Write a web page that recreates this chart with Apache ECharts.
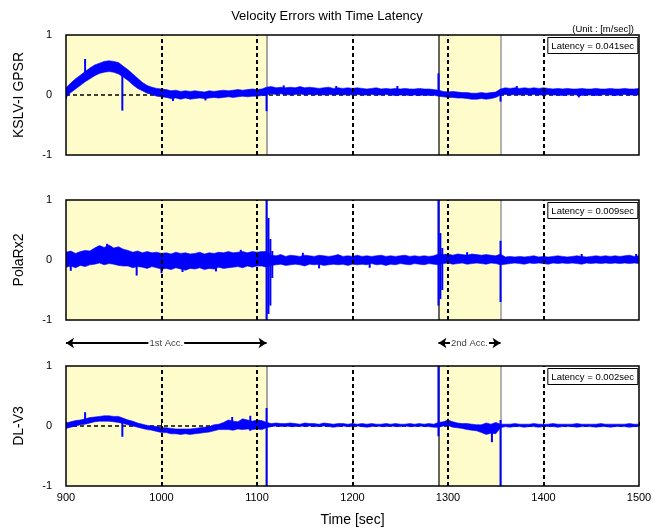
<!DOCTYPE html>
<html>
<head>
<meta charset="utf-8">
<script src="https://cdn.jsdelivr.net/npm/echarts@6/dist/echarts.min.js"></script>
<style>
html, body { margin: 0; padding: 0; background: #fff; }
#chart { width: 654px; height: 530px; }
</style>
</head>
<body>
<div id="chart"></div>
<script>
// sampled every 5 sec from 900 to 1500, lower / upper edge of the noise band
var sampleStart = 900, sampleStep = 5;

var kslvLow = [-0.04,0.04,0.1,0.16,0.22,0.27,0.32,0.36,0.38,0.39,0.38,0.35,0.3,0.24,0.17,0.11,0.07,0.03,0.01,-0.02,
  -0.03,-0.04,-0.06,-0.05,-0.07,-0.05,-0.07,-0.06,-0.05,-0.06,-0.05,-0.04,-0.05,-0.04,-0.03,-0.04,-0.03,-0.02,-0.03,-0.02,
  -0.02,-0.01,0.0,0.02,0.01,0.02,0.01,0.0,0.01,0.02,0.0,0.01,0.0,0.01,0.0,0.01,0.0,0.01,0.0,0.01,
  0.0,0.01,0.0,0.0,0.01,0.0,0.0,0.01,0.0,-0.01,0.0,0.0,-0.01,0.0,-0.01,0.0,-0.01,0.0,-0.02,-0.03,
  -0.04,-0.04,-0.05,-0.05,-0.06,-0.07,-0.07,-0.06,-0.07,-0.06,-0.04,0.0,0.01,0.0,0.01,0.0,0.01,0.0,0.01,0.0,
  0.0,0.01,0.0,0.0,-0.01,0.0,0.01,0.0,-0.01,0.0,0.0,-0.01,0.0,0.01,0.0,-0.01,0.0,0.01,0.0,0.0,0.0];
var kslvHigh = [0.12,0.2,0.27,0.33,0.39,0.45,0.5,0.53,0.56,0.57,0.56,0.54,0.48,0.42,0.35,0.28,0.21,0.16,0.13,0.11,
  0.1,0.09,0.07,0.08,0.06,0.07,0.06,0.07,0.06,0.05,0.07,0.06,0.07,0.08,0.07,0.08,0.09,0.08,0.09,0.1,
  0.09,0.1,0.13,0.14,0.12,0.13,0.12,0.13,0.12,0.14,0.12,0.13,0.12,0.11,0.12,0.13,0.11,0.12,0.11,0.12,
  0.11,0.12,0.11,0.1,0.11,0.12,0.1,0.11,0.1,0.11,0.1,0.11,0.1,0.1,0.11,0.1,0.1,0.09,0.08,0.06,
  0.05,0.06,0.05,0.04,0.04,0.03,0.03,0.04,0.03,0.04,0.05,0.1,0.12,0.11,0.12,0.11,0.12,0.11,0.12,0.11,
  0.12,0.11,0.1,0.11,0.1,0.11,0.1,0.1,0.11,0.1,0.1,0.11,0.1,0.1,0.11,0.1,0.1,0.11,0.1,0.1,0.11];

var polaLow = [-0.12,-0.1,-0.13,-0.09,-0.11,-0.08,-0.07,-0.05,-0.08,-0.06,-0.07,-0.09,-0.1,
  -0.1,-0.13,-0.11,-0.12,-0.14,-0.11,-0.13,-0.15,
  -0.14,-0.16,-0.13,-0.15,-0.17,-0.14,-0.15,-0.13,-0.16,-0.14,-0.15,-0.12,-0.14,-0.13,-0.12,-0.11,-0.13,-0.1,-0.12,-0.1,
  -0.1,-0.12,
  -0.09,-0.08,-0.07,-0.09,-0.08,-0.07,-0.08,-0.1,-0.07,-0.08,-0.07,-0.09,-0.08,-0.07,-0.08,-0.07,-0.09,-0.07,-0.08,-0.07,
  -0.08,-0.06,-0.08,-0.07,-0.09,-0.07,-0.08,-0.06,-0.07,-0.08,-0.06,-0.07,-0.08,-0.06,-0.07,
  -0.08,-0.06,-0.05,-0.07,-0.06,-0.05,-0.07,-0.06,-0.05,-0.06,-0.07,-0.05,-0.06,-0.08,
  -0.07,-0.06,-0.05,-0.06,-0.07,-0.05,-0.06,-0.05,-0.06,-0.07,-0.05,-0.06,-0.05,-0.06,-0.05,-0.06,-0.07,-0.05,-0.06,-0.05,
  -0.06,-0.05,-0.06,-0.05,-0.06,-0.05,-0.06,-0.05,-0.06];
var polaHigh = [0.13,0.15,0.11,0.14,0.16,0.15,0.2,0.24,0.21,0.25,0.2,0.22,0.18,
  0.16,0.13,0.15,0.12,0.14,0.12,0.13,0.11,
  0.12,0.1,0.13,0.11,0.12,0.1,0.11,0.13,0.1,0.12,0.11,0.13,0.12,0.14,0.12,0.13,0.14,0.12,0.14,0.13,
  0.14,0.14,
  0.08,0.07,0.09,0.06,0.08,0.07,0.06,0.08,0.07,0.06,0.08,0.07,0.06,0.07,0.09,0.06,0.07,0.06,0.08,0.06,
  0.07,0.06,0.07,0.08,0.06,0.07,0.06,0.07,0.08,0.06,0.07,0.06,0.07,0.06,0.07,
  0.1,0.09,0.1,0.08,0.1,0.09,0.08,0.1,0.09,0.08,0.09,0.08,0.07,0.1,
  0.05,0.06,0.05,0.06,0.05,0.06,0.07,0.05,0.06,0.05,0.06,0.07,0.06,0.05,0.06,0.07,0.06,0.05,0.06,0.07,
  0.06,0.07,0.06,0.07,0.06,0.07,0.08,0.06,0.07];

var dlLow = [-0.04,-0.02,0.0,0.02,0.03,0.05,0.07,0.08,0.08,0.08,0.07,0.06,0.04,0.02,0.0,-0.02,-0.04,-0.06,-0.07,-0.09,
  -0.11,-0.11,-0.13,-0.13,-0.14,-0.13,-0.14,-0.13,-0.12,-0.11,-0.1,-0.08,-0.06,-0.06,-0.06,-0.07,-0.05,-0.06,-0.05,-0.06,
  -0.05,-0.06,-0.03,
  -0.01,0.0,-0.01,0.0,-0.01,-0.01,0.0,-0.01,0.0,-0.01,-0.01,0.0,-0.01,-0.02,-0.01,0.0,-0.01,-0.01,0.0,-0.01,
  -0.02,-0.01,0.0,-0.01,-0.01,0.0,-0.01,-0.01,0.0,-0.01,-0.01,0.0,-0.01,-0.01,-0.02,
  -0.02,0.0,0.01,-0.02,-0.03,-0.04,-0.06,-0.07,-0.08,-0.11,-0.14,-0.12,-0.13,-0.03,
  -0.01,-0.02,-0.01,-0.01,-0.02,-0.01,-0.01,-0.02,-0.01,-0.01,-0.01,-0.02,-0.01,-0.01,-0.01,-0.02,-0.01,-0.01,-0.01,-0.02,
  -0.01,-0.01,-0.02,-0.01,-0.01,-0.01,-0.02,-0.01,-0.01];
var dlHigh = [0.05,0.07,0.09,0.1,0.12,0.14,0.15,0.16,0.17,0.17,0.16,0.16,0.13,0.1,0.08,0.05,0.03,0.01,0.0,-0.01,
  -0.03,-0.03,-0.04,-0.05,-0.05,-0.05,-0.05,-0.04,-0.03,-0.02,-0.01,0.02,0.03,0.06,0.1,0.08,0.07,0.12,0.1,0.08,
  0.1,0.09,0.06,
  0.04,0.05,0.04,0.04,0.05,0.04,0.03,0.05,0.04,0.04,0.03,0.05,0.04,0.03,0.04,0.04,0.03,0.04,0.03,0.04,
  0.03,0.04,0.03,0.03,0.04,0.03,0.04,0.03,0.03,0.04,0.03,0.04,0.03,0.04,0.03,
  0.06,0.07,0.1,0.07,0.05,0.04,0.04,0.03,0.02,0.02,0.05,0.03,0.06,0.03,
  0.03,0.03,0.04,0.03,0.03,0.03,0.04,0.03,0.03,0.03,0.04,0.03,0.03,0.03,0.03,0.04,0.03,0.03,0.03,0.03,
  0.04,0.03,0.03,0.03,0.03,0.03,0.04,0.03,0.03];

// single glitches: [time, min, max]
var kslvSpikes = [[900,-0.06,0.1],[920,0.3,0.6],[959,-0.26,0.45],[1012,-0.1,0.05],[1046,-0.09,0.04],[1110,-0.27,0.12],
  [1128,0.0,0.16],[1183,0.0,0.15],[1247,0.0,0.15],[1290,0.0,0.36],[1355,-0.11,0.06],[1372,0.0,0.15],[1437,-0.04,0.05]];
var polaSpikes = [[905,-0.18,0.05],[943,0.1,0.27],[974,-0.26,0.0],[1000,-0.22,0.0],[1022,-0.2,0.0],[1057,-0.19,0.0],
  [1083,0.0,0.17],[1110,-1,1],[1112,-0.9,0.7],[1114,-0.76,0.35],[1116,-0.3,0.15],[1148,0.0,0.12],[1165,-0.14,0.0],
  [1218,-0.13,0.0],[1290,-0.76,1],[1292,-0.65,0.45],[1294,-0.5,0.2],[1320,0.0,0.13],[1355,-0.7,0.32],[1440,0.0,0.1],[1497,0.0,0.1]];
var dlSpikes = [[920,0.05,0.23],[959,-0.18,0.1],[1074,0.0,0.15],[1093,-0.08,0.17],[1110,-1,0.3],[1290,-0.17,1],
  [1300,0.0,0.12],[1346,-0.27,0.0],[1355,-1,0.1]];

var receivers = ['KSLV-I GPSR', 'PolaRx2', 'DL-V3'];
var latencies = ['0.041', '0.009', '0.002'];
var accPhases = [{name: '1st Acc.', start: 900, end: 1110}, {name: '2nd Acc.', start: 1290, end: 1355}];
var guideTimes = [1000, 1100, 1200, 1300, 1400];
var xMin = 900, xMax = 1500;

var lows = [kslvLow, polaLow, dlLow];
var highs = [kslvHigh, polaHigh, dlHigh];
var spikes = [kslvSpikes, polaSpikes, dlSpikes];

var panelTops = [35, 200, 366];
var panelH = 120;
var font = 'Arial, "Liberation Sans", sans-serif';
var blue = '#0000ff';

// one polygon per panel: along the lower edge, back along the upper edge
function makeBandRenderer(lo, hi) {
  return function (params, api) {
    var pts = [];
    for (var i = 0; i < lo.length; i++) pts.push(api.coord([sampleStart + i * sampleStep, lo[i]]));
    for (var j = hi.length - 1; j >= 0; j--) pts.push(api.coord([sampleStart + j * sampleStep, hi[j]]));
    return {type: 'polygon', shape: {points: pts},
      style: {fill: blue, stroke: blue, lineWidth: 0.6}};
  };
}

function renderSpike(params, api) {
  var a = api.coord([api.value(0), api.value(1)]);
  var b = api.coord([api.value(0), api.value(2)]);
  return {type: 'line', shape: {x1: a[0], y1: a[1], x2: b[0], y2: b[1]},
    style: {stroke: blue, lineWidth: 2}};
}

var grids = [], xAxes = [], yAxes = [], series = [];
var titles = [
  {text: 'Velocity Errors with Time Latency', left: 'center', top: 5,
    textStyle: {fontFamily: font, fontSize: 13, fontWeight: 'normal', color: '#000'}},
  {text: '(Unit : [m/sec])', right: 15, top: 19,
    textStyle: {fontFamily: font, fontSize: 9.5, fontWeight: 'normal', color: '#000'}}
];

for (var p = 0; p < 3; p++) {
  var last = p === 2;
  grids.push({left: 66, right: 15, top: panelTops[p], height: panelH, show: true,
    borderColor: '#000', borderWidth: 1.5, backgroundColor: 'transparent', z: 10,
    containLabel: false, outerBoundsMode: 'none'});
  xAxes.push({type: 'value', gridIndex: p, min: xMin, max: xMax, interval: 100,
    axisLine: {show: false}, splitLine: {show: false},
    axisTick: {show: last, inside: true, length: 4, lineStyle: {color: '#000'}},
    axisLabel: {show: last, fontFamily: font, fontSize: 11, color: '#000', margin: 6,
      formatter: function (v) { return String(v); }},
    name: last ? 'Time [sec]' : '', nameLocation: 'middle', nameGap: 27,
    nameTextStyle: {fontFamily: font, fontSize: 14, color: '#000'}});
  yAxes.push({type: 'value', gridIndex: p, min: -1, max: 1, interval: 1,
    axisLine: {show: false}, splitLine: {show: false}, axisTick: {show: false},
    axisLabel: {fontFamily: font, fontSize: 11, color: '#000', margin: 14},
    name: receivers[p], nameLocation: 'middle', nameGap: 40,
    nameTextStyle: {fontFamily: font, fontSize: 14, color: '#000'}});

  // zero line, shaded phases and dashed guides
  series.push({
    type: 'line', xAxisIndex: p, yAxisIndex: p, z: 1, silent: true,
    data: [[xMin, 0], [xMax, 0]], symbol: 'none',
    lineStyle: {color: '#000', width: 1.5, type: [4, 3]},
    markArea: {z: 0, silent: true, itemStyle: {color: '#fffccc', borderWidth: 0},
      data: accPhases.map(function (a) { return [{xAxis: a.start}, {xAxis: a.end}]; })},
    markLine: {z: 3, silent: true, symbol: 'none', label: {show: false},
      lineStyle: {color: '#000', width: 2, type: [4, 3]},
      data: guideTimes.map(function (t) { return {xAxis: t}; })}
  });
  // noise band, with the phase edges drawn underneath it
  series.push({
    type: 'custom', xAxisIndex: p, yAxisIndex: p, z: 2, silent: true, clip: true,
    renderItem: makeBandRenderer(lows[p], highs[p]),
    data: [[xMin, 0]],
    markLine: {z: 1, silent: true, symbol: 'none', label: {show: false},
      data: [
        {xAxis: accPhases[0].end, lineStyle: {type: 'solid', color: '#888', width: 1.5}},
        {xAxis: accPhases[1].start, lineStyle: {type: 'solid', color: '#333', width: 1.5}},
        {xAxis: accPhases[1].end, lineStyle: {type: 'solid', color: '#999', width: 1.5}}
      ]}
  });
  series.push({
    type: 'custom', xAxisIndex: p, yAxisIndex: p, z: 2, silent: true, clip: true,
    renderItem: renderSpike, encode: {x: 0, y: [1, 2]},
    data: spikes[p]
  });
  titles.push({text: 'Latency = ' + latencies[p] + 'sec', right: 16, top: panelTops[p] + 2,
    padding: [4, 4, 3, 4], borderColor: '#000', borderWidth: 1, backgroundColor: '#fff',
    textStyle: {fontFamily: font, fontSize: 9.5, fontWeight: 'normal', color: '#000'}});
}

// strip between panel 2 and 3 for the acceleration arrows
grids.push({left: 66, right: 15, top: 336, height: 14, outerBoundsMode: 'none'});
xAxes.push({type: 'value', gridIndex: 3, min: xMin, max: xMax, show: false});
yAxes.push({type: 'value', gridIndex: 3, min: -1, max: 1, show: false});
series.push({
  type: 'line', xAxisIndex: 3, yAxisIndex: 3, silent: true, symbol: 'none',
  data: [[xMin, 0]], lineStyle: {opacity: 0},
  markLine: {silent: true, symbol: ['arrow', 'arrow'], symbolSize: 8,
    lineStyle: {color: '#000', width: 2, type: 'solid'},
    label: {show: true, position: 'middle', distance: 0, verticalAlign: 'middle',
      formatter: '{b}', fontFamily: font, fontSize: 9.5,
      color: '#444', backgroundColor: '#fff', padding: [1, 1]},
    data: accPhases.map(function (a) {
      return [{name: a.name, coord: [a.start, 0]}, {coord: [a.end, 0]}];
    })}
});

var chart = echarts.init(document.getElementById('chart'));
chart.setOption({
  animation: false,
  backgroundColor: '#fff',
  title: titles,
  grid: grids,
  xAxis: xAxes,
  yAxis: yAxes,
  series: series
});
</script>
</body>
</html>
